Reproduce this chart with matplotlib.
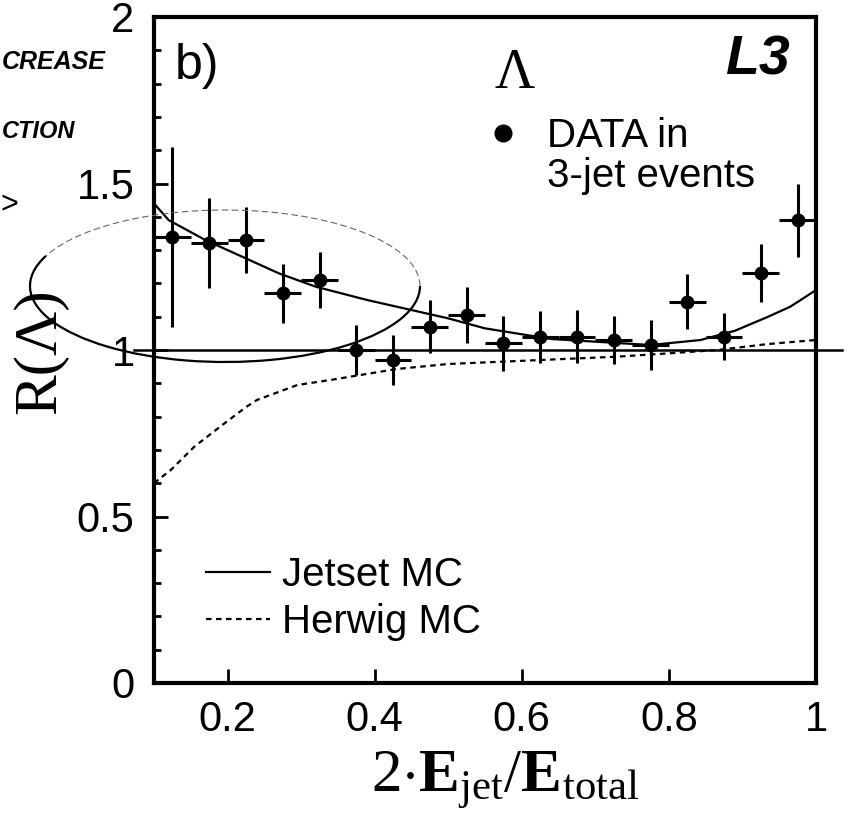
import matplotlib
matplotlib.use("Agg")
import matplotlib.pyplot as plt
from matplotlib.patches import Arc
from matplotlib.lines import Line2D
from matplotlib.ticker import MultipleLocator

# ---------------- data ----------------
x_centers = [0.125, 0.175, 0.225, 0.275, 0.325, 0.375, 0.425, 0.475, 0.525,
             0.575, 0.625, 0.675, 0.725, 0.775, 0.825, 0.875, 0.925, 0.975]
r_values = [1.34, 1.32, 1.33, 1.17, 1.21, 1.00, 0.97, 1.07, 1.105,
            1.02, 1.04, 1.04, 1.03, 1.015, 1.145, 1.04, 1.23, 1.39]
r_errors = [0.27, 0.135, 0.10, 0.088, 0.085, 0.075, 0.075, 0.08, 0.083,
            0.082, 0.078, 0.08, 0.072, 0.075, 0.082, 0.07, 0.087, 0.11]
x_halfwidth = 0.025

jetset_x = [0.10, 0.12, 0.17, 0.22, 0.27, 0.32, 0.39, 0.50, 0.55, 0.64,
            0.775, 0.843, 0.89, 0.935, 0.965, 1.0]
jetset_y = [1.44, 1.39, 1.33, 1.28, 1.23, 1.19, 1.15, 1.095, 1.065, 1.033,
            1.015, 1.03, 1.058, 1.10, 1.13, 1.18]

herwig_x = [0.10, 0.123, 0.155, 0.193, 0.226, 0.24, 0.295, 0.34, 0.43, 0.50,
            0.595, 0.73, 0.80, 0.866, 0.935, 1.0]
herwig_y = [0.60, 0.64, 0.71, 0.775, 0.83, 0.85, 0.895, 0.91, 0.943, 0.958,
            0.967, 0.98, 0.99, 1.0, 1.018, 1.03]

x_ticks = [0.2, 0.4, 0.6, 0.8, 1.0]
x_ticklabels = ["0.2", "0.4", "0.6", "0.8", "1"]
y_ticks = [0, 0.5, 1.0, 1.5, 2.0]
y_ticklabels = ["0", "0.5", "1", "1.5", "2"]
reference_level = 1.0

# ---------------- figure ----------------
plt.rcParams["font.family"] = ["Liberation Sans", "DejaVu Sans"]
plt.rcParams["mathtext.fontset"] = "custom"
plt.rcParams["mathtext.rm"] = "Liberation Serif"
plt.rcParams["mathtext.bf"] = "Liberation Serif:bold"
plt.rcParams["mathtext.it"] = "Liberation Serif:italic"

W, H = 865, 824
fig = plt.figure(figsize=(W / 100, H / 100), dpi=100)
ax = fig.add_axes([154 / W, 1 - 683 / H, 662 / W, 666 / H])

ax.set_xlim(0.1, 1.0)
ax.set_ylim(0.0, 2.0)
ax.set_xticks(x_ticks)
ax.set_xticklabels(x_ticklabels)
ax.set_yticks(y_ticks)
ax.set_yticklabels(y_ticklabels)
ax.yaxis.set_minor_locator(MultipleLocator(0.1))
ax.tick_params(which="both", direction="in", top=False, right=False, width=2)
ax.tick_params(which="major", length=10, labelsize=30)
ax.tick_params(axis="x", which="major", pad=12)
ax.tick_params(axis="y", which="major", pad=14)
ax.tick_params(which="minor", length=5)
for s in ax.spines.values():
    s.set_linewidth(3)

# reference line at R = 1 (protrudes beyond the frame as in the original)
ax.axhline(reference_level, xmin=-0.03, xmax=1.04, color="k", lw=1.8, clip_on=False)

# MC curves
jet_line, = ax.plot(jetset_x, jetset_y, color="k", lw=1.6, solid_joinstyle="round")
her_line, = ax.plot(herwig_x, herwig_y, color="k", lw=1.6, ls=(0, (2.5, 2)))

# data
ax.errorbar(x_centers, r_values, yerr=r_errors, xerr=x_halfwidth, fmt="o",
            color="k", ms=9, elinewidth=2.2, capsize=0, zorder=5)

# labels
ax.set_xlabel(r"$\mathrm{2{\cdot}}\mathbf{E}_{\mathrm{jet}}\mathrm{/}\mathbf{E}_{\mathrm{total}}$",
              fontsize=44)
ax.xaxis.set_label_coords(0.53, -0.1)
ax.set_ylabel("R(Λ)", fontsize=44, family="Liberation Serif")
ax.yaxis.set_label_coords(-0.13, 0.498)

ax.text(0.031, 0.927, "b)", transform=ax.transAxes, fontsize=36, va="center", ha="left")
ax.text(0.544, 0.915, "Λ", transform=ax.transAxes, fontsize=40, va="center",
        ha="center", family="Liberation Serif")
ax.text(0.961, 0.935, "L3", transform=ax.transAxes, fontsize=40, va="center",
        ha="right", fontweight="bold", fontstyle="italic")

# legends
data_handle = Line2D([], [], marker="o", ls="none", color="k", ms=12)
blank = Line2D([], [], ls="none")
leg1 = ax.legend([data_handle, blank], ["DATA in", "3-jet events"],
                 loc="upper left", bbox_to_anchor=(0.49, 0.85), frameon=False,
                 fontsize=29, handlelength=1.2, handletextpad=0.5,
                 labelspacing=0.05, borderpad=0, borderaxespad=0)
ax.add_artist(leg1)
ax.legend([jet_line, her_line], ["Jetset MC", "Herwig MC"], loc="upper left",
          bbox_to_anchor=(0.078, 0.19), frameon=False, fontsize=29,
          handlelength=1.6, handletextpad=0.3, labelspacing=0.22,
          borderpad=0, borderaxespad=0)

# hand-drawn ellipse annotation (figure pixels)
ell_cx, ell_cy, ell_w, ell_h = 225, 286, 390, 152
arc_kw = dict(xy=(ell_cx / W, 1 - ell_cy / H), width=ell_w / W, height=ell_h / H,
              transform=fig.transFigure, clip_on=False)
fig.add_artist(Arc(theta1=0, theta2=170, color="0.4", lw=0.8, ls=(0, (6, 3)), **arc_kw))
fig.add_artist(Arc(theta1=170, theta2=360, color="k", lw=1.6, **arc_kw))

# handwritten margin notes
fig.text(2 / W, 1 - 62 / H, "CREASE", fontsize=18, ha="left", va="center",
         fontweight="bold", fontstyle="italic")
fig.text(2 / W, 1 - 132 / H, "CTION", fontsize=17, ha="left", va="center",
         fontweight="bold", fontstyle="italic")
fig.text(1 / W, 1 - 205 / H, ">", fontsize=22, ha="left", va="center")

fig.savefig("out.png", dpi=100)
